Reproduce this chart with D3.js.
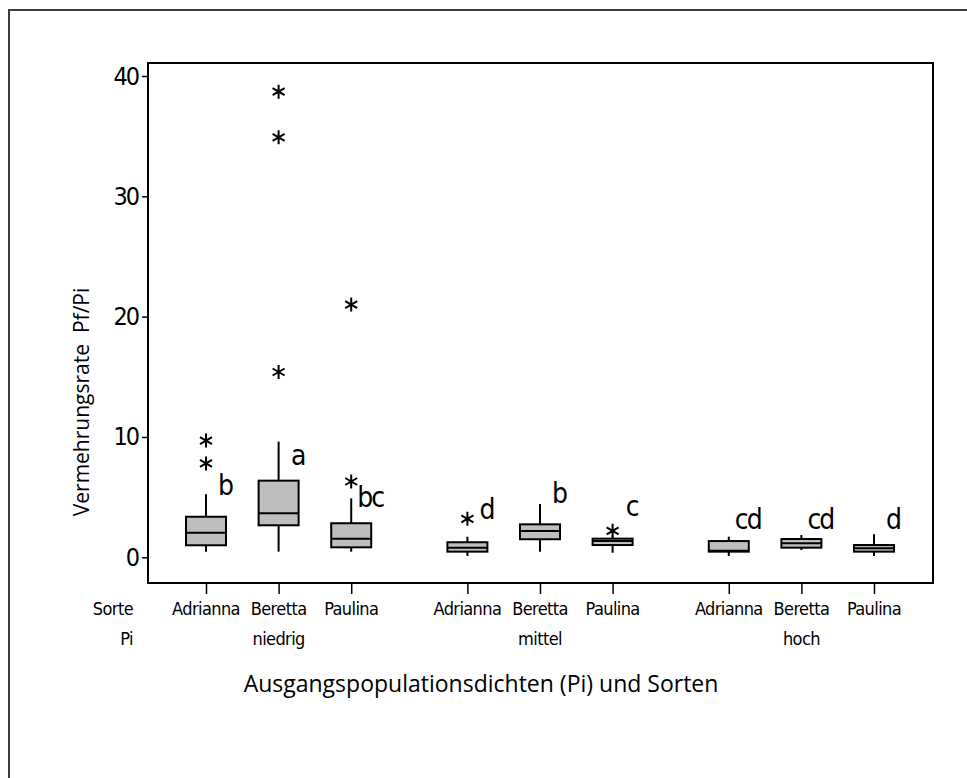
<!DOCTYPE html>
<html lang="de">
<head>
  <meta charset="utf-8">
  <script src="https://d3js.org/d3.v7.min.js"></script>
  <style>
    body { margin: 0; background: #fff; }
    svg { display: block; }
    .cond { font-family: "DejaVu Sans Condensed", "DejaVu Sans", sans-serif; font-stretch: condensed; }
    .sans { font-family: "Open Sans", "Noto Sans", sans-serif; }
  </style>
</head>
<body>
<svg></svg>
<script>
  // Sorten und Ausgangspopulationsdichten
  var varieties = ['Adrianna', 'Beretta', 'Paulina'];
  var densities = ['niedrig', 'mittel', 'hoch'];

  // Box-Kennwerte je Gruppe (niedrig x3, mittel x3, hoch x3)
  var whiskerLow  = [0.47, 0.47, 0.47, 0.11, 0.47, 0.38, 0.11, 0.60, 0.11];
  var q1          = [1.00, 2.66, 0.83, 0.47, 1.50, 1.02, 0.47, 0.80, 0.47];
  var medians     = [2.05, 3.66, 1.55, 0.80, 2.19, 1.35, 0.55, 1.16, 0.75];
  var q3          = [3.37, 6.37, 2.83, 1.25, 2.74, 1.55, 1.35, 1.52, 1.02];
  var whiskerHigh = [5.24, 9.61, 4.90, 1.71, 4.43, 1.80, 1.71, 1.85, 1.91];
  var outliers    = [[7.8, 9.7], [15.4, 34.9, 38.7], [6.3, 21.0], [3.2], [], [2.2], [], [], []];

  // Buchstaben der Signifikanzgruppen und ihre Höhe (Pf/Pi)
  var letters  = ['b', 'a', 'bc', 'd', 'b', 'c', 'cd', 'cd', 'd'];
  var letterAt = [5.2, 7.7, 4.2, 3.2, 4.5, 3.4, 2.35, 2.35, 2.35];

  var yTicks = [0, 10, 20, 30, 40];

  var width = 967, height = 778;

  var groups = [];
  densities.forEach(function (d, gi) {
    varieties.forEach(function (v, vi) {
      var i = gi * 3 + vi;
      groups.push({
        variety: v, density: d, pos: i + gi * 0.6,
        lo: whiskerLow[i], q1: q1[i], med: medians[i], q3: q3[i], hi: whiskerHigh[i],
        out: outliers[i], letter: letters[i], letterAt: letterAt[i]
      });
    });
  });

  var frame = { left: 148, top: 63, right: 933, bottom: 583 };

  var x = d3.scaleLinear().domain([0, 9.2]).range([206, 874]);
  var y = d3.scaleLinear().domain([0, 40]).range([557.3, 76]);

  var svg = d3.select('svg').attr('width', width).attr('height', height);

  // outer border (continues past the picture edge)
  svg.append('rect')
    .attr('x', 9).attr('y', 10)
    .attr('width', width + 20).attr('height', height + 20)
    .attr('fill', 'none').attr('stroke', '#3c3c3c').attr('stroke-width', 2);

  // y axis
  var yAxis = svg.append('g')
    .attr('class', 'cond')
    .attr('transform', 'translate(' + frame.left + ',0)')
    .call(d3.axisLeft(y).tickValues(yTicks).tickSize(6).tickSizeOuter(0).tickPadding(4));
  yAxis.select('.domain').remove();
  yAxis.selectAll('.tick line').attr('stroke', '#000').attr('stroke-width', 1.5);
  yAxis.selectAll('.tick text')
    .attr('fill', '#000').style('font-size', '25px').style('letter-spacing', '-2px');

  // x axis ticks
  var xAxis = svg.append('g')
    .attr('transform', 'translate(0,' + (frame.bottom + 1) + ')')
    .call(d3.axisBottom(x).tickValues(groups.map(function (g) { return g.pos; }))
      .tickSize(10).tickSizeOuter(0).tickFormat(''));
  xAxis.select('.domain').remove();
  xAxis.selectAll('.tick line').attr('stroke', '#000').attr('stroke-width', 1.5);

  // plot frame
  svg.append('rect')
    .attr('x', frame.left).attr('y', frame.top)
    .attr('width', frame.right - frame.left).attr('height', frame.bottom - frame.top)
    .attr('fill', 'none').attr('stroke', '#000').attr('stroke-width', 2);

  var boxW = 40;
  var g = svg.selectAll('.box').data(groups).enter().append('g').attr('class', 'box');

  g.append('line')
    .attr('x1', function (d) { return x(d.pos); }).attr('x2', function (d) { return x(d.pos); })
    .attr('y1', function (d) { return y(d.hi); }).attr('y2', function (d) { return y(d.lo); })
    .attr('stroke', '#000').attr('stroke-width', 2);

  g.append('rect')
    .attr('x', function (d) { return x(d.pos) - boxW / 2; })
    .attr('width', boxW)
    .attr('y', function (d) { return y(d.q3); })
    .attr('height', function (d) { return y(d.q1) - y(d.q3); })
    .attr('fill', '#bebebe').attr('stroke', '#000').attr('stroke-width', 2);

  g.append('line')
    .attr('x1', function (d) { return x(d.pos) - boxW / 2; })
    .attr('x2', function (d) { return x(d.pos) + boxW / 2; })
    .attr('y1', function (d) { return y(d.med); }).attr('y2', function (d) { return y(d.med); })
    .attr('stroke', '#000').attr('stroke-width', 2);

  // outliers as asterisks
  var star = 'M0,-7L0,7M-6,-3.5L6,3.5M-6,3.5L6,-3.5';
  g.each(function (d) {
    d3.select(this).selectAll('path.out').data(d.out).enter().append('path')
      .attr('class', 'out')
      .attr('d', star)
      .attr('transform', function (v) { return 'translate(' + x(d.pos) + ',' + y(v) + ')'; })
      .attr('stroke', '#000').attr('stroke-width', 2).attr('fill', 'none');
  });

  // significance letters
  g.append('text')
    .attr('class', 'cond')
    .attr('x', function (d) { return x(d.pos) + 19; })
    .attr('y', function (d) { return y(d.letterAt); })
    .attr('text-anchor', 'middle')
    .style('font-size', '28px').style('letter-spacing', '-2px')
    .text(function (d) { return d.letter; });

  // category labels
  var labY1 = 615, labY2 = 645;
  svg.selectAll('.var').data(groups).enter().append('text')
    .attr('class', 'cond')
    .attr('x', function (d) { return x(d.pos); })
    .attr('y', labY1)
    .attr('text-anchor', 'middle')
    .style('font-size', '18px').style('letter-spacing', '-0.6px')
    .text(function (d) { return d.variety; });

  svg.selectAll('.dens').data(groups.filter(function (d) { return d.variety === 'Beretta'; }))
    .enter().append('text')
    .attr('class', 'cond')
    .attr('x', function (d) { return x(d.pos); })
    .attr('y', labY2)
    .attr('text-anchor', 'middle')
    .style('font-size', '18px').style('letter-spacing', '-0.6px')
    .text(function (d) { return d.density; });

  svg.append('text').attr('class', 'cond')
    .attr('x', 133).attr('y', labY1).attr('text-anchor', 'end')
    .style('font-size', '18px').style('letter-spacing', '-0.6px').text('Sorte');
  svg.append('text').attr('class', 'cond')
    .attr('x', 133).attr('y', labY2).attr('text-anchor', 'end')
    .style('font-size', '18px').style('letter-spacing', '-0.6px').text('Pi');

  // axis titles
  svg.append('text').attr('class', 'sans')
    .attr('x', 481).attr('y', 692).attr('text-anchor', 'middle')
    .style('font-size', '23px')
    .text('Ausgangspopulationsdichten (Pi) und Sorten');

  svg.append('text').attr('class', 'sans')
    .attr('transform', 'translate(89,402) rotate(-90)')
    .attr('text-anchor', 'middle')
    .style('font-size', '21px')
    .style('white-space', 'pre')
    .text('Vermehrungsrate  Pf/Pi');
</script>
</body>
</html>
